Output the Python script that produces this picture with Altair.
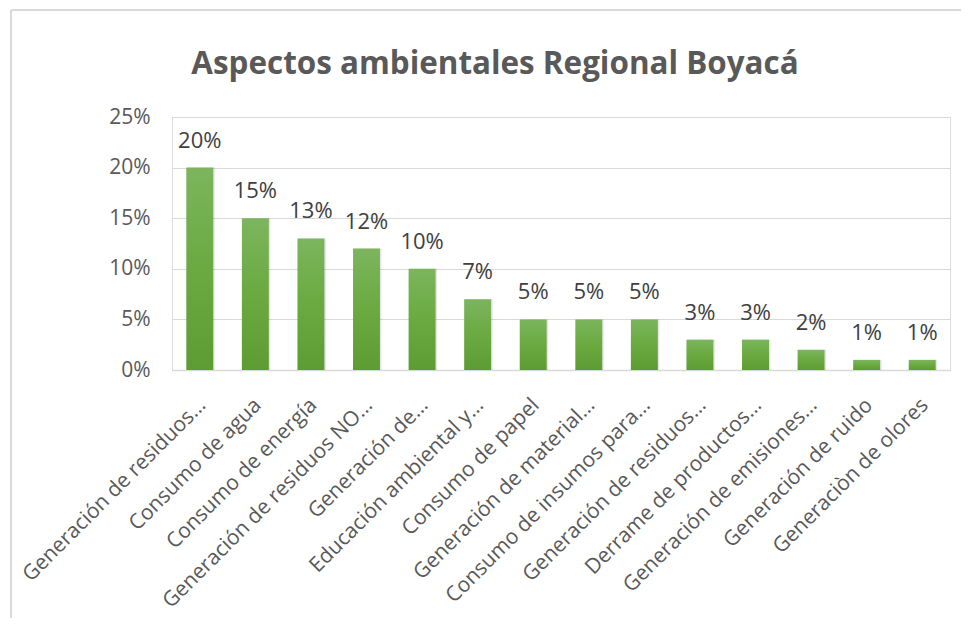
import json
import altair as alt
import pandas as pd

# ---- data ----
etiquetas = [
    "Generación de residuos…",
    "Consumo de agua",
    "Consumo de energía",
    "Generación de residuos NO…",
    "Generación de…",
    "Educación ambiental y…",
    "Consumo de papel",
    "Generación de material…",
    "Consumo de insumos para…",
    "Generación de residuos…",
    "Derrame de productos…",
    "Generación de emisiones…",
    "Generación de ruido",
    "Generaciòn de olores",
]
porcentajes = [0.20, 0.15, 0.13, 0.12, 0.10, 0.07, 0.05, 0.05, 0.05, 0.03, 0.03, 0.02, 0.01, 0.01]
ticks_y = [0, 0.05, 0.10, 0.15, 0.20, 0.25]
titulo = "Aspectos ambientales Regional Boyacá"

df = pd.DataFrame({"orden": list(range(len(etiquetas))), "valor": porcentajes})

FONT = "Open Sans"
GRIS = "#595959"

label_expr = json.dumps(etiquetas, ensure_ascii=False) + "[datum.value]"

x = alt.X(
    "orden:O",
    sort="ascending",
    scale=alt.Scale(paddingInner=0.515, paddingOuter=0.2575),
    axis=alt.Axis(
        title=None,
        labelExpr=label_expr,
        labelAngle=-45,
        labelAlign="right",
        labelBaseline="top",
        labelPadding=24,
        labelOffset=-5,
        labelFont=FONT,
        labelFontSize=21,
        labelColor=GRIS,
        labelLimit=400,
        ticks=False,
        domainColor="#d9d9d9",
        domainWidth=1.5,
        grid=False,
    ),
)
y = alt.Y(
    "valor:Q",
    scale=alt.Scale(domain=[0, 0.25], nice=False),
    axis=alt.Axis(
        title=None,
        values=ticks_y,
        format=".0%",
        labelFont=FONT,
        labelFontSize=21,
        labelColor=GRIS,
        labelPadding=22,
        ticks=False,
        domain=False,
        gridColor="#d9d9d9",
        gridWidth=1,
    ),
)

gradiente = alt.Gradient(
    gradient="linear",
    stops=[
        alt.GradientStop(color="#7cb55e", offset=0),
        alt.GradientStop(color="#6aaa40", offset=0.5),
        alt.GradientStop(color="#5d9c32", offset=1),
    ],
    x1=0, x2=0, y1=0, y2=1,
)

base = alt.Chart(df)

sombra = base.mark_bar(color="#000000", opacity=0.10, xOffset=1.5).encode(x=x, y=y)
barras = base.mark_bar(color=gradiente).encode(x=x, y=y)
valores = base.mark_text(
    font=FONT, fontSize=22, color="#404040", baseline="alphabetic", dy=-20
).encode(x=x, y=y, text=alt.Text("valor:Q", format=".0%"))

uno = alt.Data(values=[{}])
borde_sup = alt.Chart(uno).mark_rule(stroke="#d9d9d9", strokeWidth=2).encode(
    x=alt.value(-161), x2=alt.value(790), y=alt.value(-107)
)
borde_izq = alt.Chart(uno).mark_rule(stroke="#d9d9d9", strokeWidth=2).encode(
    x=alt.value(-161), y=alt.value(-107), y2=alt.value(505)
)
titulo_txt = alt.Chart(uno).mark_text(
    text=titulo, font=FONT, fontSize=31.4, fontWeight="bold", color=GRIS,
    align="center", baseline="alphabetic",
).encode(x=alt.value(323), y=alt.value(-43))

chart = alt.layer(borde_sup, borde_izq, titulo_txt, sombra, barras, valores).properties(
    width=778,
    height=253,
    autosize=alt.AutoSizeParams(type="none"),
    padding={"left": 164, "top": 109, "right": 11, "bottom": 248},
).configure_view(stroke=None).configure(background="white")

chart.save("out.html", embed_options={"renderer": "svg", "actions": False})
